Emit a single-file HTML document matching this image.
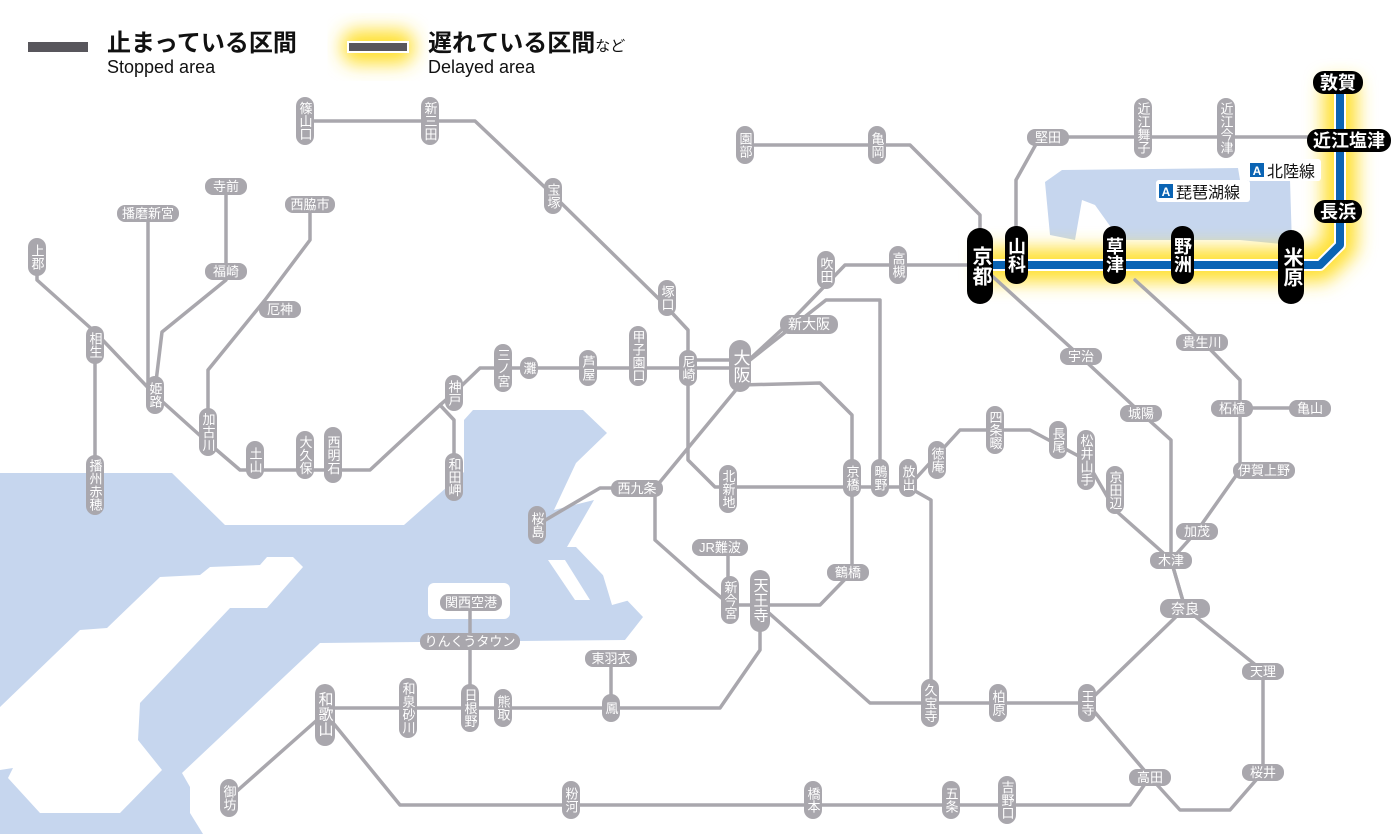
<!DOCTYPE html>
<html><head><meta charset="utf-8"><style>
html,body{margin:0;padding:0;background:#fff;width:1400px;height:834px;overflow:hidden}
svg{display:block;font-family:"Liberation Sans","Noto Sans CJK JP",sans-serif}
.l{fill:none;stroke:#a9a7ad;stroke-width:3.5;stroke-linejoin:round;stroke-linecap:round}
.g rect{fill:#a9a7ad}
.g text{fill:#fff;font-size:13px;text-anchor:middle}
.v text{writing-mode:vertical-rl;dominant-baseline:central}
.b rect{fill:#000}
.b text{fill:#fff;font-size:18px;text-anchor:middle;font-weight:bold}
</style></head><body>
<svg width="1400" height="834" viewBox="0 0 1400 834">
<defs><filter id="bl" x="-20%" y="-50%" width="140%" height="200%"><feGaussianBlur stdDeviation="9"/></filter></defs>
<!-- water -->
<polygon fill="#c6d6ee" points="0,473 172,473 225,525 404,525 464,472 464,420 473,410 583,410 607,433 576,463 554,510 594,500 567,547 576,547 643,617 625,640 320,643 182,773 190,787 190,813 203,834 0,834"/>
<polygon fill="#fff" points="293,557 303,567 267,608 230,608 140,703 138,740 162,770 120,813 40,813 8,778 13,768 0,770 0,707 80,630 107,628 160,577 200,575 210,567 260,565 267,557"/>
<rect x="428" y="583" width="82" height="36" rx="6" fill="#fff"/>
<polygon fill="#fff" points="548,560 565,560 590,600 575,600"/>
<polygon fill="#fff" points="600,565 615,565 630,600 612,605"/>
<polygon fill="#c6d6ee" points="1045,182 1062,170 1238,168 1240,180 1290,180 1292,245 1240,240 1120,240 1095,205 1082,200 1075,240 1050,235"/>
<!-- glow -->
<polyline points="980,265 1320,265 1340,245 1340,80" fill="none" stroke="#ffe030" stroke-width="34" filter="url(#bl)" stroke-linejoin="round"/>
<rect x="342" y="30" width="72" height="34" rx="14" fill="#ffe030" filter="url(#bl)"/>
<!-- lines -->
<g class="l">
<polyline points="37,257 37,280 95,332 155,395 205,440 240,470 370,470 440,405 454,393 480,368 740,368 790,322 845,265 980,265"/>
<polyline points="688,360 740,360"/>
<polyline points="95,345 95,500"/>
<polyline points="148,213 148,390"/>
<polyline points="226,186 226,280 162,332 155,390"/>
<polyline points="310,204 310,240 265,300 208,370 208,432"/>
<polyline points="440,405 454,420 454,477"/>
<polyline points="305,121 475,121 553,195 660,300 688,330 688,460 715,487 908,487 960,430 1030,430 1086,460 1115,510 1160,550 1171,560"/>
<polyline points="740,385 820,383 852,415 852,572 820,605 730,605 700,580 655,540 655,488 740,385"/>
<polyline points="655,488 600,488 537,525"/>
<polyline points="750,360 826,300 880,300 880,487"/>
<polyline points="760,605 870,703 1087,703 1185,608 1171,560 1171,440 1141,413 1080,356 980,265"/>
<polyline points="1185,608 1171,560 1197,531 1240,470 1240,408 1310,408"/>
<polyline points="1135,280 1203,342 1240,380 1240,408"/>
<polyline points="1185,608 1263,671 1263,772 1230,810 1180,810 1150,777 1087,703"/>
<polyline points="1150,777 1130,805 400,805 325,713"/>
<polyline points="760,600 760,650 720,708 325,708"/>
<polyline points="325,713 229,798"/>
<polyline points="470,602 470,708"/>
<polyline points="611,658 611,708"/>
<polyline points="908,487 931,500 931,703"/>
<polyline points="745,145 910,145 980,215 980,265"/>
<polyline points="1016,245 1016,180 1040,137 1310,137"/>
<polyline points="728,547 728,600"/>
</g>
<!-- JR blue -->
<polyline points="980,265 1320,265 1340,245 1340,80" fill="none" stroke="#fff" stroke-width="12" stroke-linejoin="round"/>
<polyline points="980,265 1320,265 1340,245 1340,80" fill="none" stroke="#0a64b4" stroke-width="8" stroke-linejoin="round"/>
<!-- legend -->
<rect x="28" y="42" width="60" height="10" fill="#58565c"/>
<rect x="348" y="42" width="60" height="10" fill="#58565c" stroke="#fff" stroke-width="2"/>
<text x="107" y="51" font-size="24" font-weight="bold" fill="#111">止まっている区間</text>
<text x="107" y="73" font-size="18" fill="#111">Stopped area</text>
<text x="428" y="51" font-size="24" font-weight="bold" fill="#111">遅れている区間<tspan font-size="15" font-weight="normal">など</tspan></text>
<text x="428" y="73" font-size="18" fill="#111">Delayed area</text>
<!-- vertical gray stations -->
<g class="g v">
<rect x="296" y="97" width="18" height="48" rx="9"/><text x="305" y="121">篠山口</text>
<rect x="421" y="97" width="18" height="48" rx="9"/><text x="430" y="121">新三田</text>
<rect x="544" y="178" width="18" height="36" rx="9"/><text x="553" y="196">宝塚</text>
<rect x="658" y="280" width="18" height="36" rx="9"/><text x="667" y="298">塚口</text>
<rect x="629" y="326" width="18" height="60" rx="9"/><text x="638" y="356">甲子園口</text>
<rect x="579" y="350" width="18" height="36" rx="9"/><text x="588" y="368">芦屋</text>
<rect x="520" y="357" width="18" height="22" rx="9"/><text x="529" y="368">灘</text>
<rect x="494" y="344" width="18" height="48" rx="9"/><text x="503" y="368">三ノ宮</text>
<rect x="445" y="375" width="18" height="36" rx="9"/><text x="454" y="393">神戸</text>
<rect x="445" y="453" width="18" height="48" rx="9"/><text x="454" y="477">和田岬</text>
<rect x="679" y="350" width="18" height="36" rx="9"/><text x="688" y="368">尼崎</text>
<rect x="719" y="465" width="18" height="48" rx="9"/><text x="728" y="489">北新地</text>
<rect x="843" y="459" width="18" height="38" rx="9"/><text x="852" y="478">京橋</text>
<rect x="871" y="459" width="18" height="38" rx="9"/><text x="880" y="478">鴫野</text>
<rect x="899" y="459" width="18" height="38" rx="9"/><text x="908" y="478">放出</text>
<rect x="928" y="441" width="18" height="38" rx="9"/><text x="937" y="460">徳庵</text>
<rect x="986" y="406" width="18" height="48" rx="9"/><text x="995" y="430">四条畷</text>
<rect x="1049" y="421" width="18" height="38" rx="9"/><text x="1058" y="440">長尾</text>
<rect x="1077" y="430" width="18" height="60" rx="9"/><text x="1086" y="460">松井山手</text>
<rect x="1106" y="466" width="18" height="48" rx="9"/><text x="1115" y="490">京田辺</text>
<rect x="86" y="326" width="18" height="38" rx="9"/><text x="95" y="345">相生</text>
<rect x="28" y="238" width="18" height="38" rx="9"/><text x="37" y="257">上郡</text>
<rect x="86" y="455" width="18" height="60" rx="9"/><text x="95" y="485">播州赤穂</text>
<rect x="146" y="376" width="18" height="38" rx="9"/><text x="155" y="395">姫路</text>
<rect x="199" y="408" width="18" height="48" rx="9"/><text x="208" y="432">加古川</text>
<rect x="246" y="441" width="18" height="38" rx="9"/><text x="255" y="460">土山</text>
<rect x="296" y="431" width="18" height="48" rx="9"/><text x="305" y="455">大久保</text>
<rect x="324" y="427" width="18" height="56" rx="9"/><text x="333" y="455">西明石</text>
<rect x="528" y="506" width="18" height="38" rx="9"/><text x="537" y="525">桜島</text>
<rect x="721" y="576" width="18" height="48" rx="9"/><text x="730" y="600">新今宮</text>
<rect x="921" y="679" width="18" height="48" rx="9"/><text x="930" y="703">久宝寺</text>
<rect x="989" y="684" width="18" height="38" rx="9"/><text x="998" y="703">柏原</text>
<rect x="1078" y="684" width="18" height="38" rx="9"/><text x="1087" y="703">王寺</text>
<rect x="399" y="678" width="18" height="60" rx="9"/><text x="408" y="708">和泉砂川</text>
<rect x="461" y="684" width="18" height="48" rx="9"/><text x="470" y="708">日根野</text>
<rect x="494" y="689" width="18" height="38" rx="9"/><text x="503" y="708">熊取</text>
<rect x="602" y="694" width="18" height="28" rx="9"/><text x="611" y="708">鳳</text>
<rect x="220" y="779" width="18" height="38" rx="9"/><text x="229" y="798">御坊</text>
<rect x="562" y="781" width="18" height="38" rx="9"/><text x="571" y="800">粉河</text>
<rect x="804" y="781" width="18" height="38" rx="9"/><text x="813" y="800">橋本</text>
<rect x="942" y="781" width="18" height="38" rx="9"/><text x="951" y="800">五条</text>
<rect x="998" y="776" width="18" height="48" rx="9"/><text x="1007" y="800">吉野口</text>
<rect x="868" y="126" width="18" height="38" rx="9"/><text x="877" y="145">亀岡</text>
<rect x="736" y="126" width="18" height="38" rx="9"/><text x="745" y="145">園部</text>
<rect x="817" y="251" width="18" height="38" rx="9"/><text x="826" y="270">吹田</text>
<rect x="889" y="246" width="18" height="38" rx="9"/><text x="898" y="265">高槻</text>
<rect x="1134" y="98" width="18" height="60" rx="9"/><text x="1143" y="128">近江舞子</text>
<rect x="1217" y="98" width="18" height="60" rx="9"/><text x="1226" y="128">近江今津</text>
</g>
<g class="g v" style="font-size:16px">
<rect x="729" y="340" width="22" height="52" rx="11"/><text x="740" y="366" style="font-size:17px">大阪</text>
<rect x="750" y="570" width="20" height="62" rx="10"/><text x="760" y="600" style="font-size:15px">天王寺</text>
<rect x="315" y="684" width="20" height="62" rx="10"/><text x="325" y="714" style="font-size:15px">和歌山</text>
</g>
<!-- horizontal gray stations -->
<g class="g">
<rect x="205" y="178" width="42" height="17" rx="8"/><text x="226" y="191">寺前</text>
<rect x="117" y="205" width="62" height="17" rx="8"/><text x="148" y="218">播磨新宮</text>
<rect x="285" y="196" width="50" height="17" rx="8"/><text x="310" y="209">西脇市</text>
<rect x="205" y="263" width="42" height="17" rx="8"/><text x="226" y="276">福崎</text>
<rect x="259" y="301" width="42" height="17" rx="8"/><text x="280" y="314">厄神</text>
<rect x="780" y="315" width="58" height="19" rx="9"/><text x="809" y="329" style="font-size:14px">新大阪</text>
<rect x="611" y="480" width="52" height="17" rx="8"/><text x="637" y="493">西九条</text>
<rect x="692" y="539" width="56" height="17" rx="8"/><text x="720" y="552">JR難波</text>
<rect x="827" y="564" width="42" height="17" rx="8"/><text x="848" y="577">鶴橋</text>
<rect x="585" y="650" width="52" height="17" rx="8"/><text x="611" y="663">東羽衣</text>
<rect x="440" y="594" width="62" height="17" rx="8"/><text x="471" y="607">関西空港</text>
<rect x="420" y="633" width="100" height="17" rx="8"/><text x="470" y="646">りんくうタウン</text>
<rect x="1060" y="348" width="42" height="17" rx="8"/><text x="1081" y="361">宇治</text>
<rect x="1120" y="405" width="42" height="17" rx="8"/><text x="1141" y="418">城陽</text>
<rect x="1176" y="334" width="52" height="17" rx="8"/><text x="1202" y="347">貴生川</text>
<rect x="1211" y="400" width="42" height="17" rx="8"/><text x="1232" y="413">柘植</text>
<rect x="1289" y="400" width="42" height="17" rx="8"/><text x="1310" y="413">亀山</text>
<rect x="1233" y="462" width="62" height="17" rx="8"/><text x="1264" y="475">伊賀上野</text>
<rect x="1176" y="523" width="42" height="17" rx="8"/><text x="1197" y="536">加茂</text>
<rect x="1150" y="552" width="42" height="17" rx="8"/><text x="1171" y="565">木津</text>
<rect x="1160" y="599" width="50" height="19" rx="9"/><text x="1185" y="614" style="font-size:14px">奈良</text>
<rect x="1242" y="663" width="42" height="17" rx="8"/><text x="1263" y="676">天理</text>
<rect x="1242" y="764" width="42" height="17" rx="8"/><text x="1263" y="777">桜井</text>
<rect x="1129" y="769" width="42" height="17" rx="8"/><text x="1150" y="782">高田</text>
<rect x="1027" y="129" width="42" height="17" rx="8"/><text x="1048" y="142">堅田</text>
</g>
<!-- line labels -->
<rect x="1247" y="159" width="74" height="22" fill="#fff" rx="3"/>
<rect x="1250" y="163" width="14" height="14" fill="#0a64b4"/><text x="1257" y="175" fill="#fff" font-size="12" text-anchor="middle" font-weight="bold">A</text>
<text x="1267" y="177" font-size="16" fill="#111">北陸線</text>
<rect x="1156" y="180" width="94" height="22" fill="#fff" rx="3"/>
<rect x="1159" y="184" width="14" height="14" fill="#0a64b4"/><text x="1166" y="196" fill="#fff" font-size="12" text-anchor="middle" font-weight="bold">A</text>
<text x="1176" y="198" font-size="16" fill="#111">琵琶湖線</text>
<!-- black stations -->
<g class="b v">
<rect x="967" y="228" width="26" height="76" rx="13"/><text x="980" y="266" style="font-size:20px">京都</text>
<rect x="1005" y="226" width="23" height="58" rx="11"/><text x="1016" y="255">山科</text>
<rect x="1103" y="226" width="23" height="58" rx="11"/><text x="1114" y="255">草津</text>
<rect x="1171" y="226" width="23" height="58" rx="11"/><text x="1182" y="255">野洲</text>
<rect x="1278" y="230" width="26" height="74" rx="13"/><text x="1291" y="267" style="font-size:20px">米原</text>
</g>
<g class="b">
<rect x="1313" y="71" width="50" height="23" rx="11"/><text x="1338" y="89">敦賀</text>
<rect x="1307" y="129" width="84" height="23" rx="11"/><text x="1349" y="147">近江塩津</text>
<rect x="1314" y="200" width="48" height="23" rx="11"/><text x="1338" y="218">長浜</text>
</g>
</svg>
</body></html>
